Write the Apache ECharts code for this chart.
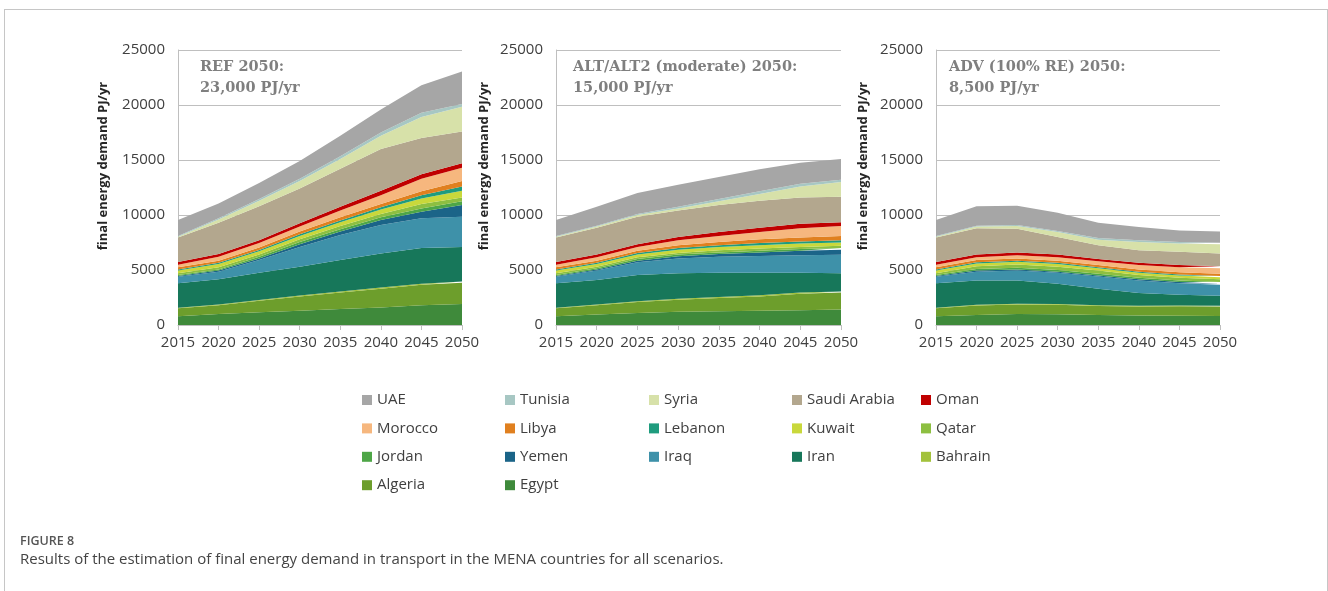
<!DOCTYPE html>
<html>
<head>
<meta charset="utf-8">
<script src="https://cdn.jsdelivr.net/npm/echarts@6/dist/echarts.min.js"></script>
<style>
html,body{margin:0;padding:0;background:#fff;width:1328px;height:591px;overflow:hidden}
#frame{position:absolute;left:4px;top:9px;width:1324px;height:640px;border:1px solid #c6c6c6;box-sizing:border-box}
#chart{position:absolute;left:0;top:0;width:1328px;height:591px}
#fig{position:absolute;left:20px;top:532px;font:600 12.5px 'Open Sans';color:#555;white-space:nowrap}
#cap{position:absolute;left:20px;top:548px;font:15px 'Open Sans';color:#444;white-space:nowrap}
</style>
</head>
<body>
<div id="frame"></div>
<div id="chart"></div>
<div id="fig">FIGURE 8</div>
<div id="cap">Results of the estimation of final energy demand in transport in the MENA countries for all scenarios.</div>
<script>
// ---- categories ----
const years = ['2015','2020','2025','2030','2035','2040','2045','2050'];
// stacking order, bottom to top
const countries = ['Egypt','Algeria','Bahrain','Iran','Iraq','Yemen','Jordan','Qatar','Kuwait','Lebanon','Libya','Morocco','Oman','Saudi Arabia','Syria','Tunisia','UAE'];
const colors = ['#3f8a3b','#6d9e2c','#a3c23c','#17775a','#3e91a9','#1b6488','#4ea647','#8dbf41','#c9d83b','#1f9c7e','#e0801f','#f6b77e','#c00000','#b3a78e','#d7e1a9','#a7c7c3','#a6a6a6'];
const titles = ['REF 2050:','ALT/ALT2 (moderate) 2050:','ADV (100% RE) 2050:'];
const subtitles = ['23,000 PJ/yr','15,000 PJ/yr','8,500 PJ/yr'];
const yTicks = [0, 5000, 10000, 15000, 20000, 25000];

// ---- REF scenario (PJ/yr) ----
const ref_Egypt   = [800, 1000, 1150, 1300, 1450, 1600, 1800, 1900];
const ref_Algeria = [720, 800, 1050, 1300, 1500, 1700, 1850, 1950];
const ref_Bahrain = [40, 60, 70, 80, 90, 100, 100, 100];
const ref_Iran    = [2230, 2290, 2480, 2620, 2860, 3100, 3250, 3150];
const ref_Iraq    = [600, 700, 1150, 1800, 2280, 2590, 2700, 2750];
const ref_Yemen   = [60, 100, 150, 250, 320, 460, 600, 1050];
const ref_Jordan  = [100, 100, 150, 200, 200, 250, 300, 350];
const ref_Qatar   = [150, 200, 200, 250, 300, 300, 400, 350];
const ref_Kuwait  = [250, 300, 300, 300, 350, 400, 500, 600];
const ref_Lebanon = [100, 100, 120, 150, 150, 200, 300, 400];
const ref_Libya   = [200, 200, 230, 250, 300, 300, 350, 500];
const ref_Morocco = [230, 350, 400, 450, 600, 800, 1150, 1200];
const ref_Oman    = [250, 250, 250, 300, 350, 400, 400, 400];
const ref_Saudi   = [2220, 2850, 3100, 3150, 3450, 3800, 3300, 2900];
const ref_Syria   = [80, 300, 500, 700, 900, 1200, 1900, 2250];
const ref_Tunisia = [70, 100, 150, 200, 250, 300, 400, 250];
const ref_UAE     = [1450, 1350, 1450, 1600, 1850, 2100, 2500, 2950];

// ---- ALT/ALT2 scenario ----
const alt_Egypt   = [800, 950, 1100, 1200, 1250, 1300, 1350, 1400];
const alt_Algeria = [720, 850, 1000, 1100, 1200, 1300, 1500, 1550];
const alt_Bahrain = [40, 60, 70, 80, 90, 100, 100, 100];
const alt_Iran    = [2230, 2240, 2380, 2320, 2210, 2050, 1800, 1650];
const alt_Iraq    = [600, 850, 1150, 1350, 1450, 1530, 1600, 1680];
const alt_Yemen   = [60, 100, 150, 200, 250, 320, 400, 470];
const alt_Jordan  = [100, 100, 150, 150, 150, 150, 150, 150];
const alt_Qatar   = [150, 150, 150, 150, 200, 200, 200, 200];
const alt_Kuwait  = [250, 250, 250, 300, 300, 300, 300, 300];
const alt_Lebanon = [100, 100, 150, 150, 150, 200, 200, 200];
const alt_Libya   = [200, 200, 200, 250, 300, 350, 350, 400];
const alt_Morocco = [230, 300, 350, 450, 550, 650, 850, 900];
const alt_Oman    = [250, 250, 250, 300, 350, 400, 400, 350];
const alt_Saudi   = [2220, 2450, 2500, 2400, 2450, 2450, 2400, 2300];
const alt_Syria   = [80, 100, 150, 200, 350, 600, 1000, 1350];
const alt_Tunisia = [70, 80, 100, 150, 200, 250, 250, 200];
const alt_UAE     = [1450, 1720, 1900, 2000, 2000, 2000, 1900, 1900];

// ---- ADV (100% RE) scenario ----
const adv_Egypt   = [800, 920, 1000, 970, 920, 870, 840, 820];
const adv_Algeria = [720, 860, 860, 870, 800, 820, 860, 860];
const adv_Bahrain = [40, 60, 70, 70, 70, 70, 70, 70];
const adv_Iran    = [2230, 2210, 2120, 1840, 1510, 1140, 980, 900];
const adv_Iraq    = [600, 800, 900, 1000, 1100, 1150, 1050, 1000];
const adv_Yemen   = [60, 100, 100, 100, 100, 100, 100, 100];
const adv_Jordan  = [100, 150, 150, 150, 150, 150, 150, 150];
const adv_Qatar   = [150, 250, 300, 300, 300, 250, 250, 250];
const adv_Kuwait  = [250, 250, 250, 250, 200, 200, 200, 200];
const adv_Lebanon = [100, 100, 100, 100, 100, 100, 100, 100];
const adv_Libya   = [200, 200, 200, 200, 200, 200, 200, 200];
const adv_Morocco = [230, 250, 300, 300, 350, 400, 450, 500];
const adv_Oman    = [250, 250, 250, 250, 200, 200, 200, 180];
const adv_Saudi   = [2220, 2400, 2150, 1600, 1250, 1150, 1200, 1170];
const adv_Syria   = [80, 150, 250, 450, 500, 750, 750, 850];
const adv_Tunisia = [70, 70, 100, 100, 150, 150, 150, 130];
const adv_UAE     = [1450, 1780, 1750, 1650, 1400, 1200, 1050, 1020];

const scenarios = [
  [ref_Egypt, ref_Algeria, ref_Bahrain, ref_Iran, ref_Iraq, ref_Yemen, ref_Jordan, ref_Qatar, ref_Kuwait, ref_Lebanon, ref_Libya, ref_Morocco, ref_Oman, ref_Saudi, ref_Syria, ref_Tunisia, ref_UAE],
  [alt_Egypt, alt_Algeria, alt_Bahrain, alt_Iran, alt_Iraq, alt_Yemen, alt_Jordan, alt_Qatar, alt_Kuwait, alt_Lebanon, alt_Libya, alt_Morocco, alt_Oman, alt_Saudi, alt_Syria, alt_Tunisia, alt_UAE],
  [adv_Egypt, adv_Algeria, adv_Bahrain, adv_Iran, adv_Iraq, adv_Yemen, adv_Jordan, adv_Qatar, adv_Kuwait, adv_Lebanon, adv_Libya, adv_Morocco, adv_Oman, adv_Saudi, adv_Syria, adv_Tunisia, adv_UAE]
];

// legend columns (as in the figure)
const legendCols = [
  ['UAE','Morocco','Jordan','Algeria'],
  ['Tunisia','Libya','Yemen','Egypt'],
  ['Syria','Lebanon','Iraq'],
  ['Saudi Arabia','Kuwait','Iran'],
  ['Oman','Qatar','Bahrain']
];

// ---- layout ----
const gridLefts = [178, 556, 936];
const gridWidths = [284, 285, 284];
const nameX = [103, 484, 863];
const titleX = [200, 573, 949];
const legendX = [357, 500, 644, 787, 916];
const FONT = "'Open Sans', sans-serif";

const grids = [], xAxes = [], yAxes = [], series = [], graphics = [];
for (let p = 0; p < 3; p++) {
  grids.push({left: gridLefts[p], width: gridWidths[p], top: 50, height: 275});
  xAxes.push({
    type: 'category', gridIndex: p, data: years, boundaryGap: false,
    axisLine: {lineStyle: {color: '#bfbfbf', width: 1}},
    axisTick: {show: true, length: 5, lineStyle: {color: '#bfbfbf'}},
    axisLabel: {interval: 0, margin: 10, color: '#404040', fontSize: 15, fontFamily: FONT},
    splitLine: {show: false}
  });
  yAxes.push({
    type: 'value', gridIndex: p, min: 0, max: 25000, interval: 5000,
    axisLine: {show: true, lineStyle: {color: '#bfbfbf'}},
    axisTick: {show: false},
    axisLabel: {margin: 13, color: '#404040', fontSize: 15, fontFamily: FONT,
      formatter: v => yTicks.includes(v) ? String(v) : ''},
    splitLine: {lineStyle: {color: '#bfbfbf', width: 1}}
  });
  for (let c = 0; c < countries.length; c++) {
    series.push({
      type: 'line', name: countries[c], xAxisIndex: p, yAxisIndex: p,
      stack: 'scen' + p, data: scenarios[p][c], symbol: 'none', smooth: false,
      lineStyle: {width: 0}, areaStyle: {color: colors[c], opacity: 1},
      itemStyle: {color: colors[c]}, emphasis: {disabled: true}
    });
  }
  graphics.push({
    type: 'text', x: nameX[p], y: 166, rotation: Math.PI / 2,
    style: {text: 'final energy demand PJ/yr', fill: '#262626', font: "bold 13px 'Open Sans', sans-serif",
      textAlign: 'center', textVerticalAlign: 'middle'}
  });
  graphics.push({
    type: 'text', x: titleX[p], y: 67,
    style: {text: titles[p], fill: '#7f7f7f', font: "bold 14.5px 'DejaVu Serif', serif",
      textAlign: 'left', textVerticalAlign: 'middle'}
  });
  graphics.push({
    type: 'text', x: titleX[p], y: 88,
    style: {text: subtitles[p], fill: '#7f7f7f', font: "bold 14.5px 'DejaVu Serif', serif",
      textAlign: 'left', textVerticalAlign: 'middle'}
  });
}

const legends = legendCols.map((col, i) => ({
  data: col, orient: 'vertical', left: legendX[i], top: 386,
  icon: 'rect', itemWidth: 10, itemHeight: 10, itemGap: 10.4,
  selectedMode: false,
  textStyle: {color: '#404040', fontSize: 15, fontFamily: FONT, lineHeight: 18, padding: [0, 0, 0, 0]}
}));

const chart = echarts.init(document.getElementById('chart'), null, {renderer: 'canvas'});
chart.setOption({
  animation: false,
  backgroundColor: 'transparent',
  grid: grids, xAxis: xAxes, yAxis: yAxes,
  legend: legends,
  series: series,
  graphic: graphics
});
</script>
</body>
</html>
